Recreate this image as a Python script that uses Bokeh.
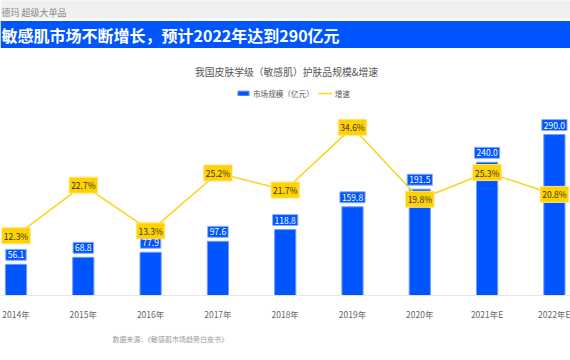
from bokeh.plotting import figure
from bokeh.models import (ColumnDataSource, Range1d, FixedTicker, Title,
                          Label, BoxAnnotation, Legend, LegendItem)
from bokeh.core.properties import value
from bokeh.embed import file_html
from bokeh.resources import INLINE

# ---- data ----
years = ["2014年", "2015年", "2016年", "2017年", "2018年", "2019年", "2020年", "2021年E", "2022年E"]
market = [56.1, 68.8, 77.9, 97.6, 118.8, 159.8, 191.5, 240.0, 290.0]
growth = [12.3, 22.7, 13.3, 25.2, 21.7, 34.6, 19.8, 25.3, 20.8]

chart_title = "我国皮肤学级（敏感肌）护肤品规模&增速"
banner_text = "敏感肌市场不断增长，预计2022年达到290亿元"
top_text = "德玛 超级大单品"
source_text = "数据来源：《敏感肌市场趋势白皮书》"
series_names = ["市场规模（亿元）", "增速"]

FONT = "Noto Sans CJK SC"
BLUE = "#0055FF"
YELLOW = "#FFD21A"

# ---- layout helpers (canvas pixel -> data) ----
W, H = 570, 360
FH = 295               # frame height (baseline position on canvas)
KX = 67.3              # px per category
X0 = -15.5 / KX        # first category centre 15.5px from canvas left
KY = 0.555             # px per 亿元
KY2 = 4.86             # px per %

def sx(px):
    return X0 + px / KX

def sy(py):
    return (FH - py) / KY

idx = list(range(len(years)))
src = ColumnDataSource(dict(
    x=idx, market=market, growth=growth,
    mlabel=[f"{v:.1f}" for v in market],
    glabel=[f"{v:.1f}%" for v in growth],
))

p = figure(width=W, height=H, output_backend="svg", toolbar_location=None,
           x_range=Range1d(X0, X0 + W / KX), y_range=Range1d(0, FH / KY),
           y_axis_location=None, x_axis_location="below",
           min_border_left=0, min_border_right=0, min_border_top=0, min_border_bottom=H - FH)
p.extra_y_ranges = {"g": Range1d(0, FH / KY2)}
p.outline_line_color = None
p.xgrid.grid_line_color = None
p.ygrid.grid_line_color = None
p.background_fill_color = "white"
p.border_fill_color = "white"

xa = p.xaxis[0]
xa.ticker = FixedTicker(ticks=idx)
xa.major_label_overrides = {i: y for i, y in enumerate(years)}
xa.axis_line_color = "#E6E6E6"
xa.major_tick_line_color = None
xa.minor_tick_line_color = None
xa.major_label_text_font = FONT
xa.major_label_text_font_size = "8.5px"
xa.major_label_text_color = "#666666"
xa.major_label_standoff = 6

# source note below the axis
p.add_layout(Title(text=source_text, align="left", offset=112, standoff=18,
                   text_font=FONT, text_font_size="7px", text_font_style="normal",
                   text_color="#999999"), "below")

# header bands
p.add_layout(BoxAnnotation(bottom=sy(18), top=sy(-5), fill_color="#F0F0F0", fill_alpha=1, line_color=None))
p.add_layout(BoxAnnotation(bottom=sy(47.5), top=sy(20.5), fill_color=BLUE, fill_alpha=1, line_color=None))
p.add_layout(Label(x=sx(1), y=sy(12), text=top_text, text_font=FONT, text_font_size="9px",
                   text_color="#888888", text_baseline="middle", text_align="left"))
p.add_layout(Label(x=sx(1), y=sy(34), text=banner_text, text_font=FONT, text_font_size="16px",
                   text_font_style="bold", text_color="white", text_baseline="middle", text_align="left"))
p.add_layout(Label(x=sx(286), y=sy(71), text=chart_title, text_font=FONT, text_font_size="9.8px",
                   text_color="#555555", text_baseline="middle", text_align="center"))

bars = p.vbar(x="x", top="market", width=0.315, source=src, fill_color=BLUE,
              line_color="#6F9BFF", line_width=1)
line = p.line(x="x", y="growth", source=src, y_range_name="g", line_color=YELLOW, line_width=1.5)

p.text(x="x", y="market", text="mlabel", source=src, y_offset=-4,
       text_align="center", text_baseline="bottom", text_font=value(FONT),
       text_font_size="8.5px", text_color="white",
       background_fill_color=BLUE, border_line_color="#8FB0FF", padding=2)
p.text(x="x", y="growth", text="glabel", source=src, y_range_name="g",
       text_align="center", text_baseline="middle", text_font=value(FONT),
       text_font_size="8.5px", text_color="#333333",
       background_fill_color="#FFD200", border_line_color="#FFE57A", padding=2)

legend = Legend(items=[LegendItem(label=series_names[0], renderers=[bars]),
                       LegendItem(label=series_names[1], renderers=[line])],
                orientation="horizontal", location=(236, FH - 99), margin=0, padding=0,
                spacing=4, glyph_width=14, glyph_height=6, label_height=12,
                label_standoff=3, label_text_font=FONT, label_text_font_size="7.6px",
                label_text_color="#555555", border_line_color=None, background_fill_alpha=0)
p.add_layout(legend)

open("out.html", "w").write(file_html(p, INLINE))
